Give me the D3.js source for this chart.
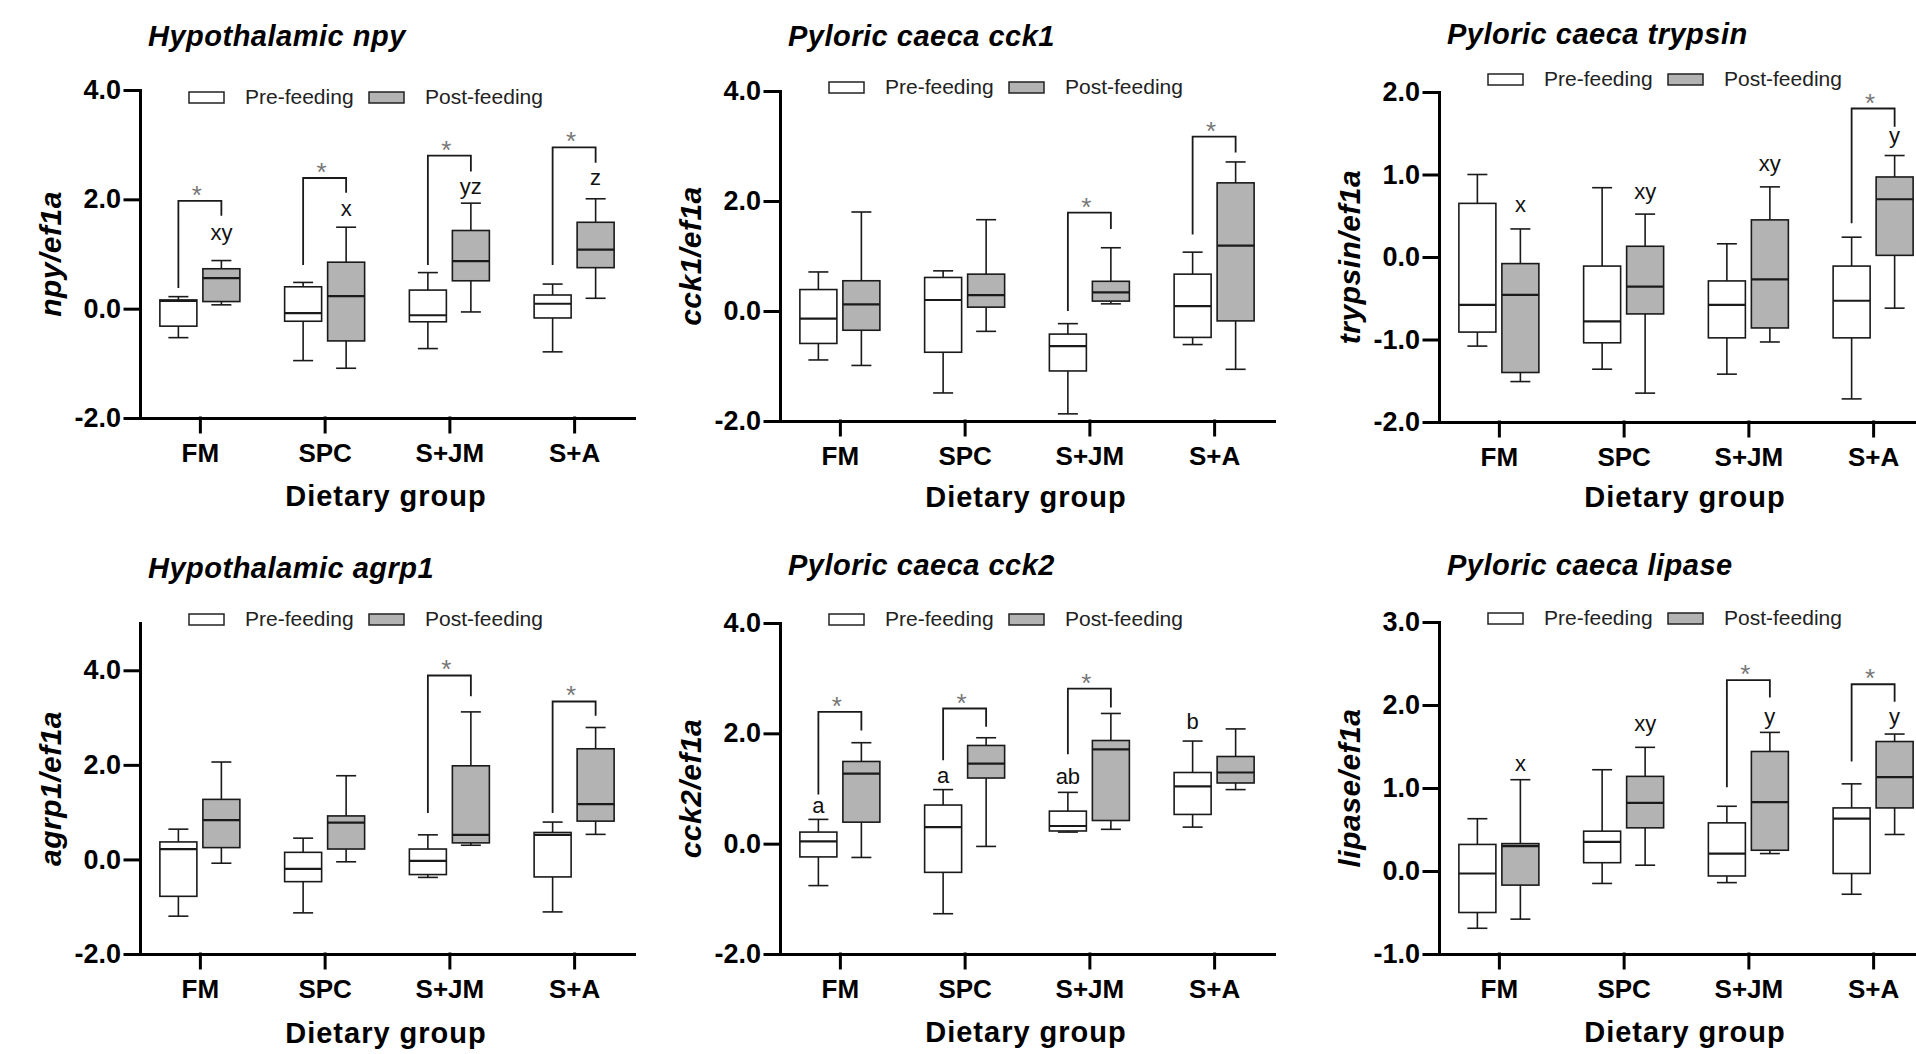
<!DOCTYPE html>
<html><head><meta charset="utf-8">
<script src="https://cdn.jsdelivr.net/npm/d3@7"></script>
<style>body{margin:0;background:#fff} svg{display:block}</style>
</head><body>
<svg id="chart" width="1916" height="1054"></svg>
<script>
// ---------- DATA ----------
const categories = ["FM", "SPC", "S+JM", "S+A"];
const seriesNames = ["Pre-feeding", "Post-feeding"];
const xTitle = "Dietary group";
// box stats per category: [min, q1, median, q3, max]

// Hypothalamic npy
const npyTicks = [-2, 0, 2, 4];
const npyPre  = [[-0.53,-0.32,0.14,0.16,0.22],[-0.95,-0.23,-0.08,0.40,0.48],[-0.73,-0.24,-0.12,0.34,0.66],[-0.79,-0.17,0.09,0.25,0.45]];
const npyPost = [[0.07,0.13,0.56,0.73,0.88],[-1.09,-0.59,0.23,0.85,1.49],[-0.06,0.51,0.87,1.43,1.93],[0.19,0.75,1.08,1.58,2.01]];
const npyLetters = ["xy","x","yz","z"];
const npyLetterY = [1.26,1.69,2.09,2.27];
const npyBrackets = [[0.38,1.97,1.70],[0.80,2.39,2.12],[0.80,2.80,2.51],[0.80,2.95,2.67]];

// Pyloric caeca cck1
const cck1Ticks = [-2, 0, 2, 4];
const cck1Pre  = [[-0.89,-0.59,-0.14,0.39,0.71],[-1.49,-0.75,0.20,0.61,0.73],[-1.87,-1.09,-0.64,-0.42,-0.23],[-0.61,-0.48,0.09,0.67,1.07]];
const cck1Post = [[-0.99,-0.35,0.12,0.55,1.80],[-0.37,0.07,0.29,0.67,1.66],[0.13,0.18,0.34,0.54,1.15],[-1.06,-0.18,1.19,2.33,2.71]];
const cck1Letters = [null,null,null,null];
const cck1LetterY = [null,null,null,null];
const cck1Brackets = [null,null,[0.0,1.79,1.49],[1.39,3.17,2.88]];

// Pyloric caeca trypsin
const trypsinTicks = [-2, -1, 0, 1, 2];
const trypsinPre  = [[-1.08,-0.91,-0.58,0.65,1.00],[-1.36,-1.04,-0.78,-0.11,0.84],[-1.42,-0.98,-0.58,-0.29,0.16],[-1.72,-0.98,-0.53,-0.11,0.24]];
const trypsinPost = [[-1.51,-1.40,-0.46,-0.08,0.34],[-1.65,-0.69,-0.36,0.13,0.52],[-1.03,-0.86,-0.27,0.45,0.85],[-0.62,0.02,0.70,0.97,1.23]];
const trypsinLetters = ["x","xy","xy","y"];
const trypsinLetterY = [0.55,0.70,1.04,1.38];
const trypsinBrackets = [null,null,null,[0.41,1.80,1.58]];

// Hypothalamic agrp1
const agrpTicks = [-2, 0, 2, 4];
const agrpPre  = [[-1.20,-0.78,0.22,0.37,0.64],[-1.13,-0.47,-0.20,0.15,0.45],[-0.38,-0.32,-0.03,0.22,0.52],[-1.11,-0.37,0.52,0.57,0.79]];
const agrpPost = [[-0.08,0.25,0.83,1.27,2.06],[-0.05,0.22,0.78,0.92,1.77],[0.30,0.35,0.52,1.98,3.12],[0.53,0.81,1.17,2.34,2.79]];
const agrpLetters = [null,null,null,null];
const agrpLetterY = [null,null,null,null];
const agrpBrackets = [null,null,[0.98,3.89,3.45],[0.98,3.34,3.04]];

// Pyloric caeca cck2
const cck2Ticks = [-2, 0, 2, 4];
const cck2Pre  = [[-0.76,-0.24,0.04,0.21,0.44],[-1.27,-0.52,0.30,0.70,0.98],[0.21,0.23,0.32,0.59,0.93],[0.30,0.53,1.04,1.29,1.86]];
const cck2Post = [[-0.25,0.39,1.27,1.49,1.83],[-0.05,1.19,1.45,1.78,1.92],[0.26,0.42,1.71,1.87,2.36],[0.98,1.10,1.29,1.58,2.08]];
const cck2Letters = ["a","a","ab","b"];
const cck2LetterY = [0.56,1.10,1.09,2.07];
const cck2Brackets = [[0.89,2.39,2.05],[1.51,2.45,2.12],[1.62,2.81,2.47],null];

// Pyloric caeca lipase
const lipaseTicks = [-1, 0, 1, 2, 3];
const lipasePre  = [[-0.69,-0.50,-0.03,0.32,0.63],[-0.15,0.10,0.35,0.48,1.22],[-0.14,-0.06,0.21,0.58,0.78],[-0.28,-0.03,0.63,0.76,1.05]];
const lipasePost = [[-0.58,-0.17,0.30,0.33,1.10],[0.07,0.52,0.82,1.14,1.49],[0.21,0.25,0.83,1.44,1.67],[0.44,0.76,1.13,1.56,1.65]];
const lipaseLetters = ["x","xy","y","y"];
const lipaseLetterY = [1.21,1.69,1.77,1.77];
const lipaseBrackets = [null,null,[1.01,2.30,2.09],[1.32,2.25,2.04]];

// ---------- PANELS (data + layout) ----------
const panels = [
  {title:"Hypothalamic npy", ylab:"npy/ef1a", domain:[-2,4], ticks:npyTicks, pre:npyPre, post:npyPost,
   letters:npyLetters, letterY:npyLetterY, letterSide:1, brackets:npyBrackets,
   ax:140, top:90, bottom:418, legendTop:92, titleY:46, xTitleY:506},
  {title:"Pyloric caeca cck1", ylab:"cck1/ef1a", domain:[-2,4], ticks:cck1Ticks, pre:cck1Pre, post:cck1Post,
   letters:cck1Letters, letterY:cck1LetterY, letterSide:1, brackets:cck1Brackets,
   ax:780, top:91, bottom:421, legendTop:82, titleY:46, xTitleY:507},
  {title:"Pyloric caeca trypsin", ylab:"trypsin/ef1a", domain:[-2,2], ticks:trypsinTicks, pre:trypsinPre, post:trypsinPost,
   letters:trypsinLetters, letterY:trypsinLetterY, letterSide:1, brackets:trypsinBrackets,
   ax:1439, top:92, bottom:422, legendTop:74, titleY:44, xTitleY:507},
  {title:"Hypothalamic agrp1", ylab:"agrp1/ef1a", domain:[-2,5], ticks:agrpTicks, pre:agrpPre, post:agrpPost,
   letters:agrpLetters, letterY:agrpLetterY, letterSide:1, brackets:agrpBrackets,
   ax:140, top:623, bottom:954, legendTop:614, titleY:578, xTitleY:1043},
  {title:"Pyloric caeca cck2", ylab:"cck2/ef1a", domain:[-2,4], ticks:cck2Ticks, pre:cck2Pre, post:cck2Post,
   letters:cck2Letters, letterY:cck2LetterY, letterSide:0, brackets:cck2Brackets,
   ax:780, top:623, bottom:954, legendTop:614, titleY:575, xTitleY:1042},
  {title:"Pyloric caeca lipase", ylab:"lipase/ef1a", domain:[-1,3], ticks:lipaseTicks, pre:lipasePre, post:lipasePost,
   letters:lipaseLetters, letterY:lipaseLetterY, letterSide:1, brackets:lipaseBrackets,
   ax:1439, top:622, bottom:954, legendTop:613, titleY:575, xTitleY:1042}
];

// ---------- DRAW ----------
const svg = d3.select("#chart");
const FONT = "'Liberation Sans', Arial, sans-serif";
const BOX_W = 37, OFF = 21.5, CAP = 20, AXW = 494;
const fills = ["#ffffff", "#b3b3b3"];

panels.forEach(p => {
  const g = svg.append("g");
  const x = d3.scalePoint().domain(categories).range([p.ax, p.ax + AXW]).padding(0.48);
  const y = d3.scaleLinear().domain(p.domain).range([p.bottom, p.top]);

  // title
  g.append("text").attr("x", p.ax + 8).attr("y", p.titleY)
    .attr("font-family", FONT).attr("font-weight", "bold").attr("font-style", "italic")
    .attr("font-size", 29).attr("letter-spacing", 0.5).attr("fill", "#000").text(p.title);

  // y label
  g.append("text")
    .attr("transform", `translate(${p.ax - 90},${(p.top + p.bottom) / 2}) rotate(-90)`)
    .attr("text-anchor", "middle").attr("dominant-baseline", "central")
    .attr("font-family", FONT).attr("font-weight", "bold").attr("font-style", "italic")
    .attr("font-size", 30).attr("letter-spacing", 0.5).text(p.ylab);

  // x title
  g.append("text").attr("x", p.ax + 246).attr("y", p.xTitleY).attr("text-anchor", "middle")
    .attr("font-family", FONT).attr("font-weight", "bold").attr("font-size", 29)
    .attr("letter-spacing", 1).text(xTitle);

  // legend
  const lg = g.append("g");
  const legOff = [[49, 105], [229, 285]];
  seriesNames.forEach((s, i) => {
    lg.append("rect").attr("x", p.ax + legOff[i][0]).attr("y", p.legendTop)
      .attr("width", 35).attr("height", 11).attr("fill", fills[i])
      .attr("stroke", "#222").attr("stroke-width", 1.5);
    lg.append("text").attr("x", p.ax + legOff[i][1]).attr("y", p.legendTop + 12)
      .attr("font-family", FONT).attr("font-size", 21).attr("fill", "#222").text(s);
  });

  // boxes
  [p.pre, p.post].forEach((series, si) => {
    series.forEach((st, ci) => {
      if (!st) return;
      const cx = x(categories[ci]) + (si === 0 ? -OFF : OFF);
      const [mn, q1, md, q3, mx] = st;
      const bg = g.append("g").attr("stroke", "#1a1a1a").attr("stroke-width", 1.6);
      bg.append("line").attr("x1", cx).attr("x2", cx).attr("y1", y(mx)).attr("y2", y(mn));
      bg.append("line").attr("x1", cx - CAP / 2).attr("x2", cx + CAP / 2).attr("y1", y(mx)).attr("y2", y(mx));
      bg.append("line").attr("x1", cx - CAP / 2).attr("x2", cx + CAP / 2).attr("y1", y(mn)).attr("y2", y(mn));
      bg.append("rect").attr("x", cx - BOX_W / 2).attr("y", y(q3)).attr("width", BOX_W)
        .attr("height", y(q1) - y(q3)).attr("fill", fills[si]);
      bg.append("line").attr("x1", cx - BOX_W / 2).attr("x2", cx + BOX_W / 2)
        .attr("y1", y(md)).attr("y2", y(md)).attr("stroke-width", 2.2);
    });
  });

  // letters
  p.letters.forEach((L, ci) => {
    if (!L) return;
    const cx = x(categories[ci]) + (p.letterSide === 0 ? -OFF : OFF);
    g.append("text").attr("x", cx).attr("y", y(p.letterY[ci])).attr("text-anchor", "middle")
      .attr("font-family", FONT).attr("font-size", 22).attr("fill", "#111").text(L);
  });

  // significance brackets
  p.brackets.forEach((b, ci) => {
    if (!b) return;
    const xl = x(categories[ci]) - OFF, xr = x(categories[ci]) + OFF;
    g.append("path")
      .attr("d", `M${xl},${y(b[0])}V${y(b[1])}H${xr}V${y(b[2])}`)
      .attr("fill", "none").attr("stroke", "#1a1a1a").attr("stroke-width", 1.8);
    g.append("text").attr("x", (xl + xr) / 2 - 3).attr("y", y(b[1]) + 3).attr("text-anchor", "middle")
      .attr("font-family", FONT).attr("font-size", 26).attr("fill", "#777").text("*");
  });

  // axes
  const yAxis = g.append("g").attr("transform", `translate(${p.ax},0)`)
    .call(d3.axisLeft(y).tickValues(p.ticks).tickFormat(d => d.toFixed(1))
      .tickSize(15).tickSizeOuter(0).tickPadding(4));
  const xAxis = g.append("g").attr("transform", `translate(0,${p.bottom})`)
    .call(d3.axisBottom(x).tickSize(14).tickSizeOuter(0).tickPadding(12));
  [yAxis, xAxis].forEach(a => {
    a.selectAll(".domain, .tick line").attr("stroke", "#000").attr("stroke-width", 3)
      .attr("stroke-linecap", "square");
    a.selectAll("text").attr("font-family", FONT).attr("font-weight", "bold").attr("fill", "#000");
  });
  yAxis.selectAll("text").attr("font-size", 27);
  xAxis.selectAll("text").attr("font-size", 26);
});
</script>
</body></html>
